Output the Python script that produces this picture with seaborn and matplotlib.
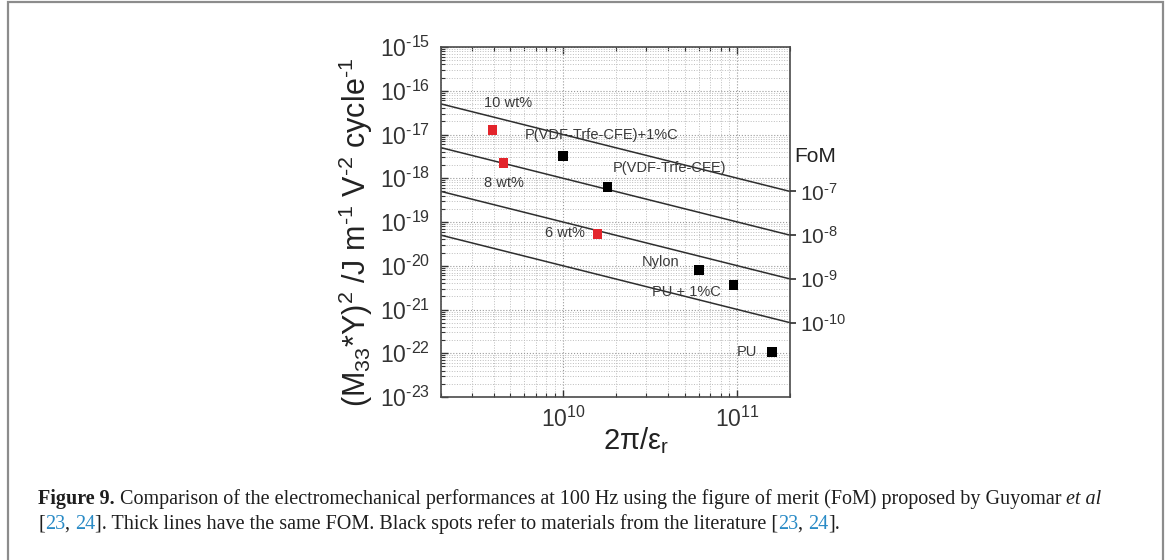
import matplotlib
matplotlib.use("Agg")
import matplotlib.pyplot as plt
import seaborn as sns
import pandas as pd
import numpy as np
from matplotlib.ticker import (LogLocator, NullFormatter, FixedLocator,
                               FixedFormatter, FuncFormatter)
from matplotlib.patches import Rectangle

# ---- data -------------------------------------------------------------
comp_labels = ["10 wt%", "8 wt%", "6 wt%"]
comp_x = [3.95e9, 4.56e9, 1.58e10]
comp_y = [1.27e-17, 2.23e-18, 5.3e-20]

lit_labels = ["P(VDF-Trfe-CFE)+1%C", "P(VDF-Trfe-CFE)", "Nylon", "PU + 1%C", "PU"]
lit_x = [1.0e10, 1.8e10, 6.0e10, 9.5e10, 1.58e11]
lit_y = [3.2e-18, 6.3e-19, 8.0e-21, 3.6e-21, 1.07e-22]

fom_levels = [1e-7, 1e-8, 1e-9, 1e-10]
fom_tick_labels = [r"$10^{\text{-7}}$", r"$10^{\text{-8}}$",
                   r"$10^{\text{-9}}$", r"$10^{\text{-10}}$"]

x_range = [2e9, 2e11]
y_range = [1e-23, 1e-15]

# label offsets (points) and alignment for each annotated marker
comp_offsets = [(11.5, 19.4, "center"), (0, -14.4, "center"), (-9.0, 0.7, "right")]
lit_offsets = [(-27.4, 15.1, "left"), (3.6, 13.7, "left"), (-27.4, 5.8, "center"),
               (-33.8, -5.0, "center"), (-10.5, 0.0, "right")]

# ---- style ------------------------------------------------------------
sns.set_theme(style="ticks")
plt.rcParams["font.family"] = ["Liberation Sans", "DejaVu Sans"]
plt.rcParams["mathtext.fontset"] = "custom"
plt.rcParams["mathtext.rm"] = "Liberation Sans"
plt.rcParams["mathtext.it"] = "Liberation Sans:italic"
plt.rcParams["mathtext.bf"] = "Liberation Sans:bold"

W, H = 1171, 560
fig = plt.figure(figsize=(W / 100, H / 100), dpi=100)
ax = fig.add_axes([441 / W, 1 - 397 / H, (790 - 441) / W, (397 - 47) / H])
ax.set_xscale("log")
ax.set_yscale("log")
ax.set_xlim(*x_range)
ax.set_ylim(*y_range)

# iso-FoM lines: y = FoM / x
for lvl in fom_levels:
    df = pd.DataFrame({"x": x_range, "y": [lvl / v for v in x_range]})
    sns.lineplot(data=df, x="x", y="y", ax=ax, color="#2e2e2e", lw=1.1)

sns.scatterplot(x=comp_x, y=comp_y, ax=ax, marker="s", s=48,
                color="#e3242b", edgecolor="none", zorder=5)
sns.scatterplot(x=lit_x, y=lit_y, ax=ax, marker="s", s=48,
                color="black", edgecolor="none", zorder=5)

txt_color = "#3a3a3a"
for lab, x, y, (dx, dy, ha) in zip(comp_labels, comp_x, comp_y, comp_offsets):
    ax.annotate(lab, (x, y), xytext=(dx, dy), textcoords="offset points",
                ha=ha, va="center", fontsize=10.5, color=txt_color)
for lab, x, y, (dx, dy, ha) in zip(lit_labels, lit_x, lit_y, lit_offsets):
    ax.annotate(lab, (x, y), xytext=(dx, dy), textcoords="offset points",
                ha=ha, va="center", fontsize=10.5, color=txt_color)


def pow10(v, _pos):
    e = int(np.round(np.log10(v)))
    return r"$10^{\text{%d}}$" % e


# axes decoration
ax.xaxis.set_major_locator(LogLocator(base=10, numticks=20))
ax.yaxis.set_major_locator(LogLocator(base=10, numticks=20))
ax.xaxis.set_major_formatter(FuncFormatter(pow10))
ax.yaxis.set_major_formatter(FuncFormatter(pow10))
ax.xaxis.set_minor_locator(LogLocator(base=10, subs=range(2, 10), numticks=40))
ax.yaxis.set_minor_locator(LogLocator(base=10, subs=range(2, 10), numticks=40))
ax.xaxis.set_minor_formatter(NullFormatter())
ax.yaxis.set_minor_formatter(NullFormatter())
ax.grid(which="major", ls=":", color="#9a9a9a", lw=0.8)
ax.grid(which="minor", ls=":", color="#bdbdbd", lw=0.7)
ax.tick_params(which="both", direction="in", top=True, right=True, colors="#333333")
ax.tick_params(which="major", length=5, width=1.0, labelsize=16.5, pad=8)
ax.tick_params(which="minor", length=3, width=0.8)
ax.tick_params(axis="x", which="major", pad=7)
for sp in ax.spines.values():
    sp.set_color("#4a4a4a")
    sp.set_linewidth(1.2)

ax.set_xlabel(r"$\mathregular{2\pi/\varepsilon_r}$", fontsize=21, color="#222222")
ax.xaxis.set_label_coords(0.56, -0.08)
ax.set_ylabel(r"(M$_{33}$*Y)$^2$ /J m$^{\text{-1}}$ V$^{\text{-2}}$ cycle$^{\text{-1}}$",
              fontsize=22, color="#222222")
ax.yaxis.set_label_coords(-0.19, 0.47)

# right-hand FoM scale: FoM lines meet the right spine at FoM / x_max
rax = ax.twinx()
rax.set_yscale("log")
rax.set_ylim(*y_range)
rax.yaxis.set_major_locator(FixedLocator([lvl / x_range[1] for lvl in fom_levels]))
rax.yaxis.set_major_formatter(FixedFormatter(fom_tick_labels))
rax.yaxis.set_minor_locator(FixedLocator([]))
rax.tick_params(axis="y", direction="out", length=4, labelsize=15, pad=3, colors="#333333")
for sp in rax.spines.values():
    sp.set_visible(False)
rax.text(1.013, 0.686, "FoM", transform=ax.transAxes, fontsize=15,
         color="#222222", ha="left", va="center")

# ---- frame and caption ------------------------------------------------
fig.patches.append(Rectangle((8 / W, -0.05), (1163 - 8) / W, 1.05 - 2 / H,
                             transform=fig.transFigure, fill=False,
                             edgecolor="#8c8c8c", lw=1.6))

blue = "#2a8bc6"
ink = "#1e1e1e"
cap_size = 14.5
renderer = fig.canvas.get_renderer()


def draw_runs(x_px, y_px, runs):
    x = x_px
    for s, color, weight, style in runs:
        t = fig.text(x / W, 1 - y_px / H, s, fontsize=cap_size, color=color,
                     fontweight=weight, fontstyle=style, va="baseline",
                     family=["Liberation Serif", "DejaVu Serif"])
        x = t.get_window_extent(renderer).x1


draw_runs(38, 504, [
    ("Figure 9.", ink, "bold", "normal"),
    (" Comparison of the electromechanical performances at 100 Hz using the figure "
     "of merit (FoM) proposed by Guyomar ", ink, "normal", "normal"),
    ("et al", ink, "normal", "italic"),
])
draw_runs(38, 529, [
    ("[", ink, "normal", "normal"),
    ("23", blue, "normal", "normal"),
    (", ", ink, "normal", "normal"),
    ("24", blue, "normal", "normal"),
    ("]. Thick lines have the same FOM. Black spots refer to materials from the "
     "literature [", ink, "normal", "normal"),
    ("23", blue, "normal", "normal"),
    (", ", ink, "normal", "normal"),
    ("24", blue, "normal", "normal"),
    ("].", ink, "normal", "normal"),
])

fig.savefig("out.png", dpi=100)
